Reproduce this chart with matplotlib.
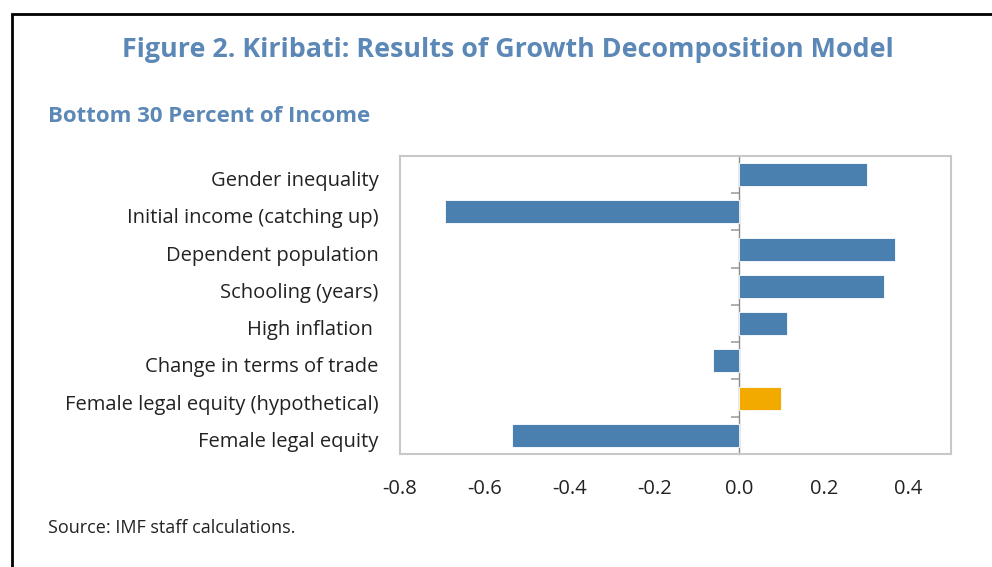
import numpy as np
import matplotlib.pyplot as plt
from matplotlib.patches import Rectangle
from matplotlib.transforms import ScaledTranslation

plt.rcParams['font.family'] = ['Open Sans', 'DejaVu Sans']

categories = ['Gender inequality', 'Initial income (catching up)', 'Dependent population',
              'Schooling (years)', 'High inflation ', 'Change in terms of trade',
              'Female legal equity (hypothetical)', 'Female legal equity']
values = [0.303, -0.693, 0.367, 0.341, 0.114, -0.062, 0.099, -0.535]
bar_colors = ['#4A80AF'] * 6 + ['#F2AA00'] + ['#4A80AF']
xticks = [-0.8, -0.6, -0.4, -0.2, 0.0, 0.2, 0.4]

title_color = '#5B88B6'

fig = plt.figure(figsize=(9.92, 5.67), dpi=100)
ax = fig.add_axes([0.4032, 0.1993, 0.5554, 0.5256])

y = np.arange(len(categories))
ax.barh(y, values, height=0.62, color=bar_colors, edgecolor='white', linewidth=0.6, zorder=2)
ax.set_ylim(len(categories) - 0.5, -0.5)
ax.set_xlim(-0.8, 0.5)

ax.set_yticks(y, labels=categories, fontsize=14.5, color='#222222')
ax.tick_params(axis='y', length=0, pad=15.5)
ax.set_xticks(xticks, labels=['%.1f' % t for t in xticks], fontsize=14.5, color='#222222')
ax.tick_params(axis='x', length=0, pad=18)

# nudge category labels down a little, like the original
shift = ScaledTranslation(0, -4 / 100, fig.dpi_scale_trans)
for lab in ax.get_yticklabels():
    lab.set_transform(lab.get_transform() + shift)

for s in ax.spines.values():
    s.set_color('#C8C8C8')
    s.set_linewidth(1.5)

# zero axis with category ticks
zero_loc = (0 - ax.get_xlim()[0]) / (ax.get_xlim()[1] - ax.get_xlim()[0])
sec = ax.secondary_yaxis(zero_loc)
sec.yaxis.set_ticks_position('left')
sec.set_yticks(np.arange(len(categories) + 1) - 0.5, labels=[''] * (len(categories) + 1))
sec.tick_params(axis='y', length=6, width=1.2, color='#A0A0A0', direction='out')
for s in sec.spines.values():
    s.set_color('#8C8C8C')
    s.set_linewidth(1)

fig.text(0.512, 0.912, 'Figure 2. Kiribati: Results of Growth Decomposition Model',
         ha='center', va='center', fontsize=19.4, fontweight='bold', color=title_color)
fig.text(0.048, 0.794, 'Bottom 30 Percent of Income', ha='left', va='center',
         fontsize=16, fontweight='bold', color=title_color)
fig.text(0.048, 0.068, 'Source: IMF staff calculations.', ha='left', va='center',
         fontsize=13, color='#222222')

fig.patches.append(Rectangle((12 / 992, -0.1), 1.2, 1 - 14 / 567 + 0.1,
                             transform=fig.transFigure, fill=False,
                             edgecolor='black', linewidth=2))

fig.savefig('out.png', dpi=100)
